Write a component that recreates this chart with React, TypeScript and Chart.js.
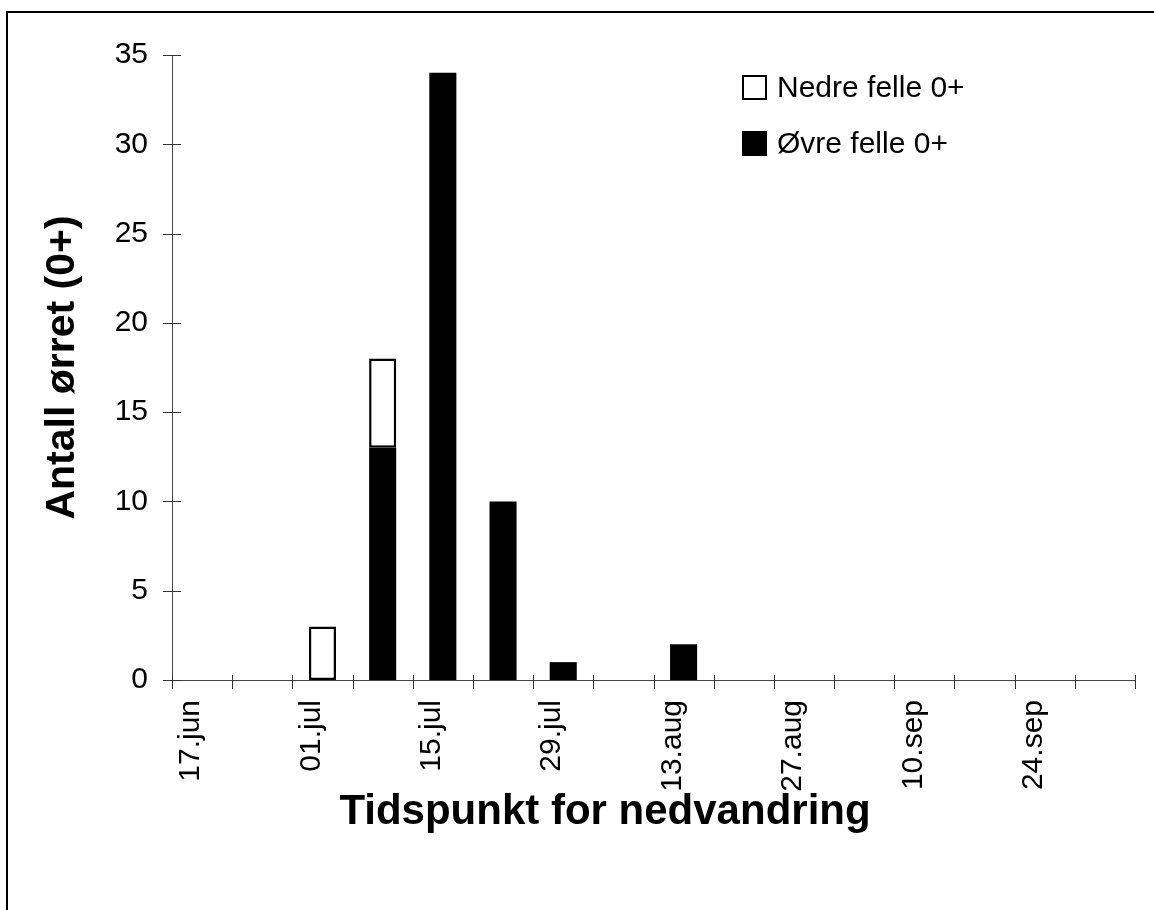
import React, { useEffect, useRef } from "react";
import { Chart, registerables } from "chart.js";

Chart.register(...registerables);

// Weekly sampling dates (only every second one is printed on the axis)
const weekLabels = [
  "17.jun", "", "01.jul", "", "15.jul", "", "29.jul", "",
  "13.aug", "", "27.aug", "", "10.sep", "", "24.sep", "",
];

// Catches per week, lower trap and upper trap
const nedreFelle = [null, null, 3, 5, null, null, null, null, null, null, null, null, null, null, null, null];
const ovreFelle = [null, null, null, 13, 34, 10, 1, null, 2, null, null, null, null, null, null, null];

const seriesNames = ["Nedre felle 0+", "Øvre felle 0+"];
const yAxisTitle = "Antall ørret (0+)";
const xAxisTitle = "Tidspunkt for nedvandring";

const FONT = 'Arial, "Liberation Sans", Helvetica, sans-serif';

// Short tick marks that cross both axes
const crossTicks = {
  id: "crossTicks",
  afterDraw(chart: any) {
    const { ctx, chartArea, scales } = chart;
    const xs = scales.x;
    const ys = scales.y;
    ctx.save();
    ctx.strokeStyle = "#333";
    ctx.lineWidth = 1;
    ctx.beginPath();
    const n = xs.ticks.length;
    for (let i = 0; i <= n; i++) {
      const px = Math.round(chartArea.left + (chartArea.width * i) / n) + 0.5;
      ctx.moveTo(px, chartArea.bottom - 5);
      ctx.lineTo(px, chartArea.bottom + 9);
    }
    ys.ticks.forEach((t: any) => {
      const py = Math.round(ys.getPixelForValue(t.value)) + 0.5;
      ctx.moveTo(chartArea.left - 9, py);
      ctx.lineTo(chartArea.left + 9, py);
    });
    ctx.stroke();
    ctx.restore();
  },
};

// Bold caption under the date axis
const axisCaption = {
  id: "axisCaption",
  afterDraw(chart: any, _args: any, opts: any) {
    const { ctx } = chart;
    ctx.save();
    ctx.font = `bold ${opts.size}px ${FONT}`;
    ctx.fillStyle = "#000";
    ctx.textAlign = "center";
    ctx.textBaseline = "alphabetic";
    ctx.fillText(opts.text, opts.x, opts.y);
    ctx.restore();
  },
};

// Legend placed inside the plot, upper right
const insetLegend = {
  id: "insetLegend",
  afterDraw(chart: any, _args: any, opts: any) {
    const { ctx } = chart;
    const sets = [...chart.data.datasets].reverse();
    ctx.save();
    ctx.font = `${opts.size}px ${FONT}`;
    ctx.textBaseline = "middle";
    ctx.textAlign = "left";
    sets.forEach((ds: any, i: number) => {
      const top = opts.y + i * opts.rowGap;
      ctx.fillStyle = ds.backgroundColor;
      ctx.fillRect(opts.x, top, opts.box, opts.box);
      ctx.strokeStyle = "#000";
      ctx.lineWidth = 2;
      ctx.strokeRect(opts.x + 1, top + 1, opts.box - 2, opts.box - 2);
      ctx.fillStyle = "#000";
      ctx.fillText(ds.label, opts.x + opts.box + 10, top + opts.box / 2 + 1);
    });
    ctx.restore();
  },
};

export default function App() {
  const canvasRef = useRef<HTMLCanvasElement | null>(null);

  useEffect(() => {
    if (!canvasRef.current) return;
    const chart = new Chart(canvasRef.current, {
      type: "bar",
      data: {
        labels: weekLabels,
        datasets: [
          {
            label: seriesNames[1],
            data: ovreFelle,
            backgroundColor: "#000000",
            borderColor: "#000000",
            borderWidth: 0,
            borderSkipped: false,
          },
          {
            label: seriesNames[0],
            data: nedreFelle,
            backgroundColor: "#ffffff",
            borderColor: "#000000",
            borderWidth: 2.5,
            borderSkipped: false,
          },
        ],
      },
      options: {
        responsive: false,
        animation: false,
        devicePixelRatio: 1,
        layout: { padding: { top: 55, right: 19, bottom: 0, left: 0 } },
        datasets: {
          bar: { categoryPercentage: 1, barPercentage: 0.45 },
        },
        scales: {
          x: {
            stacked: true,
            grid: { display: false, drawTicks: false },
            border: { display: true, color: "#444", width: 1 },
            ticks: {
              autoSkip: false,
              minRotation: 90,
              maxRotation: 90,
              padding: 20,
              labelOffset: -11,
              color: "#000",
              font: { family: FONT, size: 30 },
            },
            afterFit: (scale: any) => {
              scale.height = 230;
              scale.paddingLeft = 0;
              scale.paddingRight = 0;
            },
          },
          y: {
            stacked: true,
            min: 0,
            max: 35,
            grid: { display: false, drawTicks: false },
            border: { display: true, color: "#444", width: 1 },
            ticks: {
              stepSize: 5,
              padding: 24,
              color: "#000",
              font: { family: FONT, size: 30 },
            },
            title: {
              display: true,
              text: yAxisTitle,
              color: "#000",
              padding: { top: 38, bottom: 0 },
              font: { family: FONT, size: 41, weight: "bold" },
            },
            afterFit: (scale: any) => {
              scale.width = 172;
            },
          },
        },
        plugins: {
          legend: { display: false },
          tooltip: { enabled: false },
          axisCaption: { text: xAxisTitle, x: 605, y: 824, size: 42 },
          insetLegend: { x: 742, y: 75, box: 25, rowGap: 56, size: 30 },
        } as any,
      },
      plugins: [crossTicks, axisCaption, insetLegend],
    });
    return () => chart.destroy();
  }, []);

  return (
    <div
      style={{
        position: "fixed",
        left: 0,
        top: 0,
        width: 1154,
        height: 910,
        overflow: "hidden",
        background: "#fff",
      }}
    >
      <div
        style={{
          position: "absolute",
          left: 6,
          top: 11,
          width: 1200,
          height: 1000,
          borderLeft: "2px solid #000",
          borderTop: "2px solid #000",
        }}
      />
      <canvas
        ref={canvasRef}
        width={1154}
        height={910}
        style={{ position: "absolute", left: 0, top: 0 }}
      />
    </div>
  );
}
